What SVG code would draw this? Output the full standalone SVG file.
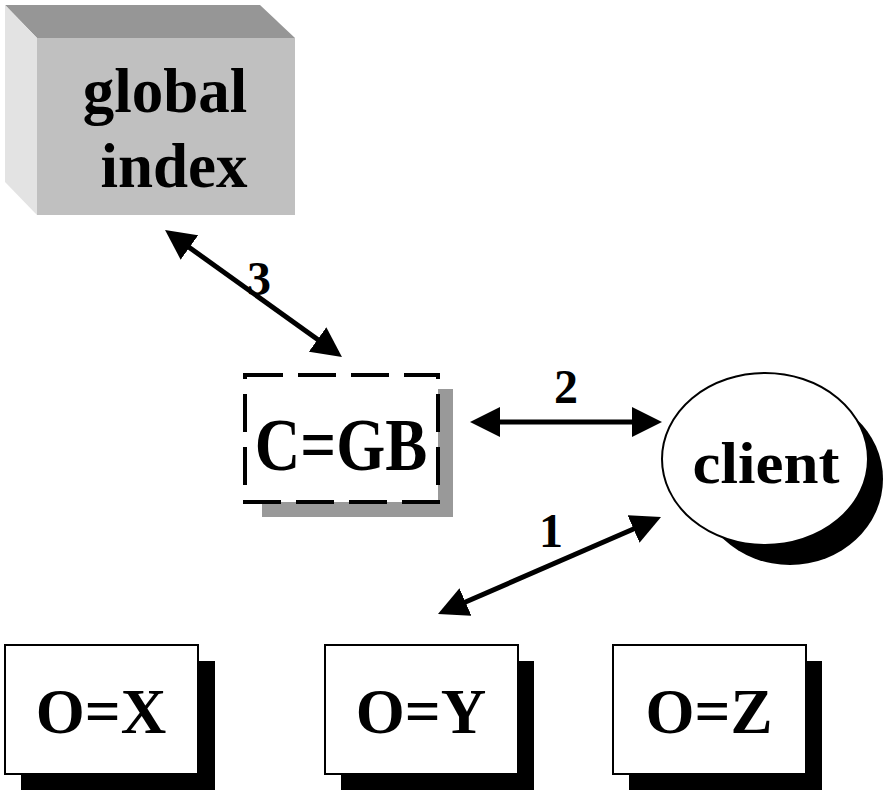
<svg xmlns="http://www.w3.org/2000/svg" width="890" height="791" viewBox="0 0 890 791">
<style>
  .t { font-family: "Liberation Serif", "Times New Roman", serif; font-weight: bold; fill: #000; text-anchor: middle; }
  .big { font-size: 63px; }
  .num { font-size: 48px; }
  .box { fill: #fff; stroke: #000; stroke-width: 2; }
  .shadow { fill: #000; }
  .conn { stroke: #000; stroke-width: 5; fill: none; marker-start: url(#ah); marker-end: url(#ah); }
</style>
<defs>
  <marker id="ah" viewBox="0 0 30 30" refX="10" refY="15" markerWidth="30" markerHeight="30" markerUnits="userSpaceOnUse" orient="auto-start-reverse">
    <path d="M0,0 L30,15 L0,30 Z" fill="#000"/>
  </marker>
</defs>
<rect width="890" height="791" fill="#fff"/>

<g id="global-index">
  <polygon points="5,5 260,5 295,38 37,38" fill="#969696"/>
  <polygon points="5,5 37,38 37,215 5,182" fill="#e3e3e3"/>
  <rect x="37" y="38" width="258" height="177" fill="#c0c0c0"/>
  <text class="t big" x="165" y="112">global</text>
  <text class="t big" x="174" y="187">index</text>
</g>

<g id="cgb">
  <rect x="262" y="389" width="191" height="128" fill="#999"/>
  <rect x="245" y="375" width="193" height="127" fill="#fff" stroke="#000" stroke-width="4" stroke-dasharray="38 15"/>
  <text class="t big" transform="translate(341,470) scale(1,1.17)">C=GB</text>
</g>

<g id="client">
  <ellipse cx="790" cy="479" rx="93" ry="86" class="shadow"/>
  <ellipse cx="765" cy="459" rx="103" ry="86" class="box" stroke-width="2.5"/>
  <text class="t big" transform="translate(766,483) scale(1,0.94)">client</text>
</g>

<g id="ox">
  <rect x="21" y="661" width="194" height="129" class="shadow"/>
  <rect x="5" y="645" width="193" height="129" class="box"/>
  <text class="t big" x="101" y="733">O=X</text>
</g>

<g id="oy">
  <rect x="341" y="661" width="193" height="129" class="shadow"/>
  <rect x="325" y="645" width="193" height="129" class="box"/>
  <text class="t big" x="421" y="733">O=Y</text>
</g>

<g id="oz">
  <rect x="629" y="661" width="193" height="129" class="shadow"/>
  <rect x="613" y="645" width="193" height="129" class="box"/>
  <text class="t big" x="709" y="733">O=Z</text>
</g>

<g id="connectors">
  <line class="conn" x1="181.3" y1="241.7" x2="325.7" y2="345.3"/>
  <line class="conn" x1="490" y1="422" x2="642" y2="422"/>
  <line class="conn" x1="456.3" y1="606" x2="642.7" y2="525"/>
  <text class="t num" x="259" y="295">3</text>
  <text class="t num" x="566" y="403">2</text>
  <text class="t num" x="551" y="547">1</text>
</g>
</svg>
